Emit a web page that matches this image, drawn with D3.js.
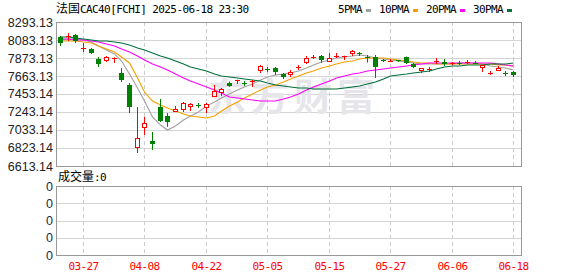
<!DOCTYPE html>
<html>
<head>
<meta charset="utf-8">
<script src="https://cdn.jsdelivr.net/npm/d3@7"></script>
<style>
  body { margin: 0; background: #fff; }
  svg { display: block; }
  .mono { font-family: "DejaVu Sans Mono", monospace; font-size: 11px; letter-spacing: -0.6px; }
  .cjk { font-family: "Noto Sans CJK SC", sans-serif; font-size: 12px; letter-spacing: 0; }
  .num { font-family: "Liberation Sans", Arial, sans-serif; font-size: 12.5px; fill: #222; }
</style>
</head>
<body>
<svg id="chart" width="578" height="276"></svg>
<script>
// trading days
const dates = ["03-24","03-25","03-26","03-27","03-28","03-31","04-01","04-02","04-03","04-04",
  "04-07","04-08","04-09","04-10","04-11","04-14","04-15","04-16","04-17","04-22",
  "04-23","04-24","04-25","04-28","04-29","04-30","05-02","05-05","05-06","05-07",
  "05-08","05-09","05-12","05-13","05-14","05-15","05-16","05-19","05-20","05-21",
  "05-22","05-23","05-26","05-27","05-28","05-29","05-30","06-02","06-03","06-04",
  "06-05","06-06","06-09","06-10","06-11","06-12","06-13","06-16","06-17","06-18"]

const open  = [8118,8118,8141,7990,7978,7861,7838,7868,7698,7558,6823,7056,6905,7301,7196,7243,7270,7301,7325,7290,
  7418,7465,7581,7610,7585,7593,7721,7745,7756,7686,7675,7762,7815,7873,7896,7826,7890,7894,7920,7935,
  7887,7885,7852,7836,7846,7885,7803,7727,7740,7826,7826,7812,7818,7815,7818,7756,7695,7721,7700,7710]
const high  = [8130,8165,8153,8048,7990,7885,7896,7880,7756,7581,7301,7185,7010,7395,7231,7313,7360,7348,7348,7348,
  7558,7523,7600,7620,7605,7616,7791,7768,7768,7698,7733,7791,7896,7908,7908,7931,7931,7900,7966,7943,
  7908,7908,7861,7861,7850,7890,7815,7756,7768,7873,7861,7826,7840,7850,7838,7791,7721,7780,7721,7721]
const low   = [8013,8071,8048,7943,7920,7768,7826,7815,7593,7231,6765,6975,6800,7126,7070,7243,7243,7255,7290,7231,
  7418,7430,7535,7570,7546,7535,7698,7710,7675,7628,7651,7733,7803,7861,7815,7826,7873,7850,7896,7896,
  7820,7640,7826,7826,7826,7803,7756,7698,7710,7803,7780,7790,7791,7803,7803,7710,7675,7721,7663,7651]
const close = [8048,8130,8071,7995,7931,7803,7885,7873,7616,7301,6940,7115,6875,7138,7126,7278,7348,7336,7313,7336,
  7488,7511,7546,7616,7580,7605,7780,7735,7705,7651,7710,7768,7873,7885,7850,7873,7896,7898,7955,7928,
  7882,7768,7848,7840,7840,7809,7768,7756,7745,7838,7803,7818,7812,7822,7812,7791,7700,7756,7695,7675]

const ma5  = [8083,8095,8095,8083,8060,8013,7966,7920,7838,7686,7523,7371,7185,7091,7033,7080,7150,7196,7243,7313,
  7360,7406,7453,7500,7535,7570,7616,7651,7675,7686,7698,7721,7756,7791,7826,7850,7873,7885,7896,7908,
  7896,7873,7861,7850,7838,7826,7815,7803,7803,7803,7803,7803,7815,7815,7815,7803,7780,7768,7756,7733]
const ma10 = [8071,8071,8071,8060,8048,8013,7978,7943,7885,7815,7640,7476,7371,7325,7290,7255,7220,7196,7185,7173,
  7196,7255,7313,7360,7406,7453,7500,7535,7558,7593,7628,7663,7698,7721,7756,7780,7803,7826,7838,7861,
  7873,7873,7873,7861,7850,7838,7826,7815,7815,7803,7803,7803,7803,7803,7803,7803,7803,7791,7791,7780]
const ma20 = [8095,8095,8083,8083,8071,8060,8036,8013,7978,7943,7896,7850,7803,7768,7733,7686,7640,7605,7570,7535,
  7500,7465,7418,7406,7395,7383,7371,7371,7371,7395,7418,7453,7500,7535,7570,7605,7640,7663,7686,7698,
  7721,7733,7745,7756,7768,7780,7791,7803,7815,7815,7815,7815,7815,7815,7815,7815,7815,7803,7791,7780]
const ma30 = [8118,8118,8106,8095,8083,8071,8071,8060,8048,8025,7990,7966,7931,7896,7873,7838,7803,7768,7745,7721,
  7686,7663,7651,7640,7628,7616,7605,7581,7558,7546,7535,7523,7523,7511,7511,7511,7511,7523,7535,7546,
  7570,7593,7628,7663,7675,7686,7698,7710,7721,7745,7768,7780,7780,7791,7791,7791,7803,7803,7803,7815]

const xLabels = ["03-27","04-08","04-22","05-05","05-15","05-27","06-06","06-18"]
const yLabels = ["8293.13","8083.13","7873.13","7663.13","7453.14","7243.14","7033.14","6823.14","6613.14"]
const volLabels = ["0","0","0","0","0"]
const maNames = ["5PMA","10PMA","20PMA","30PMA"]
const maColors = ["#a0a0a0","#f5a000","#ff00ff","#006e3a"]

const pLeft = 56, pRight = 522
const pTop = 22, pBottom = 166
const vTop = 186, vBottom = 255

const svg = d3.select('#chart')

const x = d3.scaleBand().domain(dates).range([pLeft, 517])
const cx = d => Math.round(x(d) + x.bandwidth() / 2)
const y = d3.scaleLinear().domain([6613.14, 8293.13]).range([pBottom, pTop])
const yv = d3.scaleLinear().domain([0, volLabels.length - 1]).range([vBottom, vTop])

// title + legend
const title = svg.append('text').attr('x', 56).attr('y', 13).attr('class', 'mono').attr('fill', '#000')
title.append('tspan').attr('class', 'cjk').text('法国')
title.append('tspan').text('CAC40[FCHI] 2025-06-18 23:30')

let lx = 338
maNames.forEach((name, i) => {
  svg.append('text').attr('class', 'mono').attr('x', lx).attr('y', 13).attr('fill', '#000').text(name)
  const w = name.length * 6
  svg.append('rect').attr('x', lx + w + 4).attr('y', 9).attr('width', 5).attr('height', 3).attr('fill', maColors[i])
  lx += w + 17
})

// grid main
const g = svg.append('g')
g.selectAll('.hgrid').data(yLabels).enter().append('line')
  .attr('x1', pLeft).attr('x2', pRight)
  .attr('y1', d => Math.round(y(+d)) + 0.5).attr('y2', d => Math.round(y(+d)) + 0.5)
  .attr('stroke', '#d4d4d4')

g.selectAll('.vgrid').data(xLabels).enter().append('line')
  .attr('x1', d => cx(d) + 0.5).attr('x2', d => cx(d) + 0.5)
  .attr('y1', pTop).attr('y2', pBottom)
  .attr('stroke', '#cccccc').attr('stroke-dasharray', '4,3')

// volume grid
g.selectAll('.vhgrid').data(volLabels).enter().append('line')
  .attr('x1', pLeft).attr('x2', pRight)
  .attr('y1', (d, i) => Math.round(yv(i)) + 0.5).attr('y2', (d, i) => Math.round(yv(i)) + 0.5)
  .attr('stroke', '#d4d4d4')
g.selectAll('.vvgrid').data(xLabels).enter().append('line')
  .attr('x1', d => cx(d) + 0.5).attr('x2', d => cx(d) + 0.5)
  .attr('y1', vTop).attr('y2', vBottom)
  .attr('stroke', '#cccccc').attr('stroke-dasharray', '4,3')

// watermark
svg.append('text').attr('x', 208).attr('y', 110)
  .attr('font-family', '"Noto Sans CJK SC", sans-serif').attr('font-size', 38).attr('font-weight', 'bold')
  .attr('fill', '#e6e6ea').attr('letter-spacing', 5).text('东方财富')

// moving averages
const line = d3.line().x((v, i) => cx(dates[i]) + 0.5).y(v => y(v))
;[ma5, ma10, ma20, ma30].forEach((s, i) => {
  svg.append('path').datum(s).attr('d', line).attr('fill', 'none')
    .attr('stroke', maColors[i]).attr('stroke-width', 1.1)
})

// candles
const candles = svg.append('g')
dates.forEach((d, i) => {
  const up = close[i] >= open[i]
  const col = up ? '#ff0000' : '#008000'
  const c = cx(d)
  const yt = Math.round(y(Math.max(open[i], close[i])))
  const yb = Math.round(y(Math.min(open[i], close[i])))
  candles.append('line').attr('x1', c + 0.5).attr('x2', c + 0.5)
    .attr('y1', y(high[i])).attr('y2', y(low[i])).attr('stroke', col)
  if (yb - yt < 2) {
    candles.append('rect').attr('x', c - 2).attr('y', yt).attr('width', 5).attr('height', Math.max(1, yb - yt))
      .attr('fill', col)
  } else if (up) {
    candles.append('rect').attr('x', c - 1.5).attr('y', yt + 0.5).attr('width', 4).attr('height', yb - yt - 1)
      .attr('fill', '#fff').attr('stroke', col)
  } else {
    candles.append('rect').attr('x', c - 2).attr('y', yt).attr('width', 5).attr('height', yb - yt)
      .attr('fill', col)
  }
})

// borders
svg.append('rect').attr('x', pLeft + 0.5).attr('y', pTop + 0.5).attr('width', pRight - pLeft - 1).attr('height', pBottom - pTop)
  .attr('fill', 'none').attr('stroke', '#999')
svg.append('rect').attr('x', pLeft + 0.5).attr('y', vTop + 0.5).attr('width', pRight - pLeft - 1).attr('height', vBottom - vTop)
  .attr('fill', 'none').attr('stroke', '#999')

// y labels
svg.selectAll('.ylab').data(yLabels).enter().append('text')
  .attr('class', 'num').attr('x', 53).attr('y', d => y(+d)).attr('dy', '0.36em')
  .attr('text-anchor', 'end').text(d => d)
svg.selectAll('.vlab').data(volLabels).enter().append('text')
  .attr('class', 'num').attr('x', 53).attr('y', (d, i) => yv(i)).attr('dy', '0.36em')
  .attr('text-anchor', 'end').style('fill', '#1a2a4a').text(d => d)

// volume caption
const vt = svg.append('text').attr('x', 58).attr('y', 181).attr('class', 'mono').attr('fill', '#000')
vt.append('tspan').attr('class', 'cjk').text('成交量')
vt.append('tspan').text(':0')

// x labels
svg.selectAll('.xlab').data(xLabels).enter().append('text')
  .attr('class', 'mono').attr('x', d => cx(d) + 0.5).attr('y', 270)
  .attr('text-anchor', 'middle').attr('fill', '#ff0000').text(d => d)
</script>
</body>
</html>
